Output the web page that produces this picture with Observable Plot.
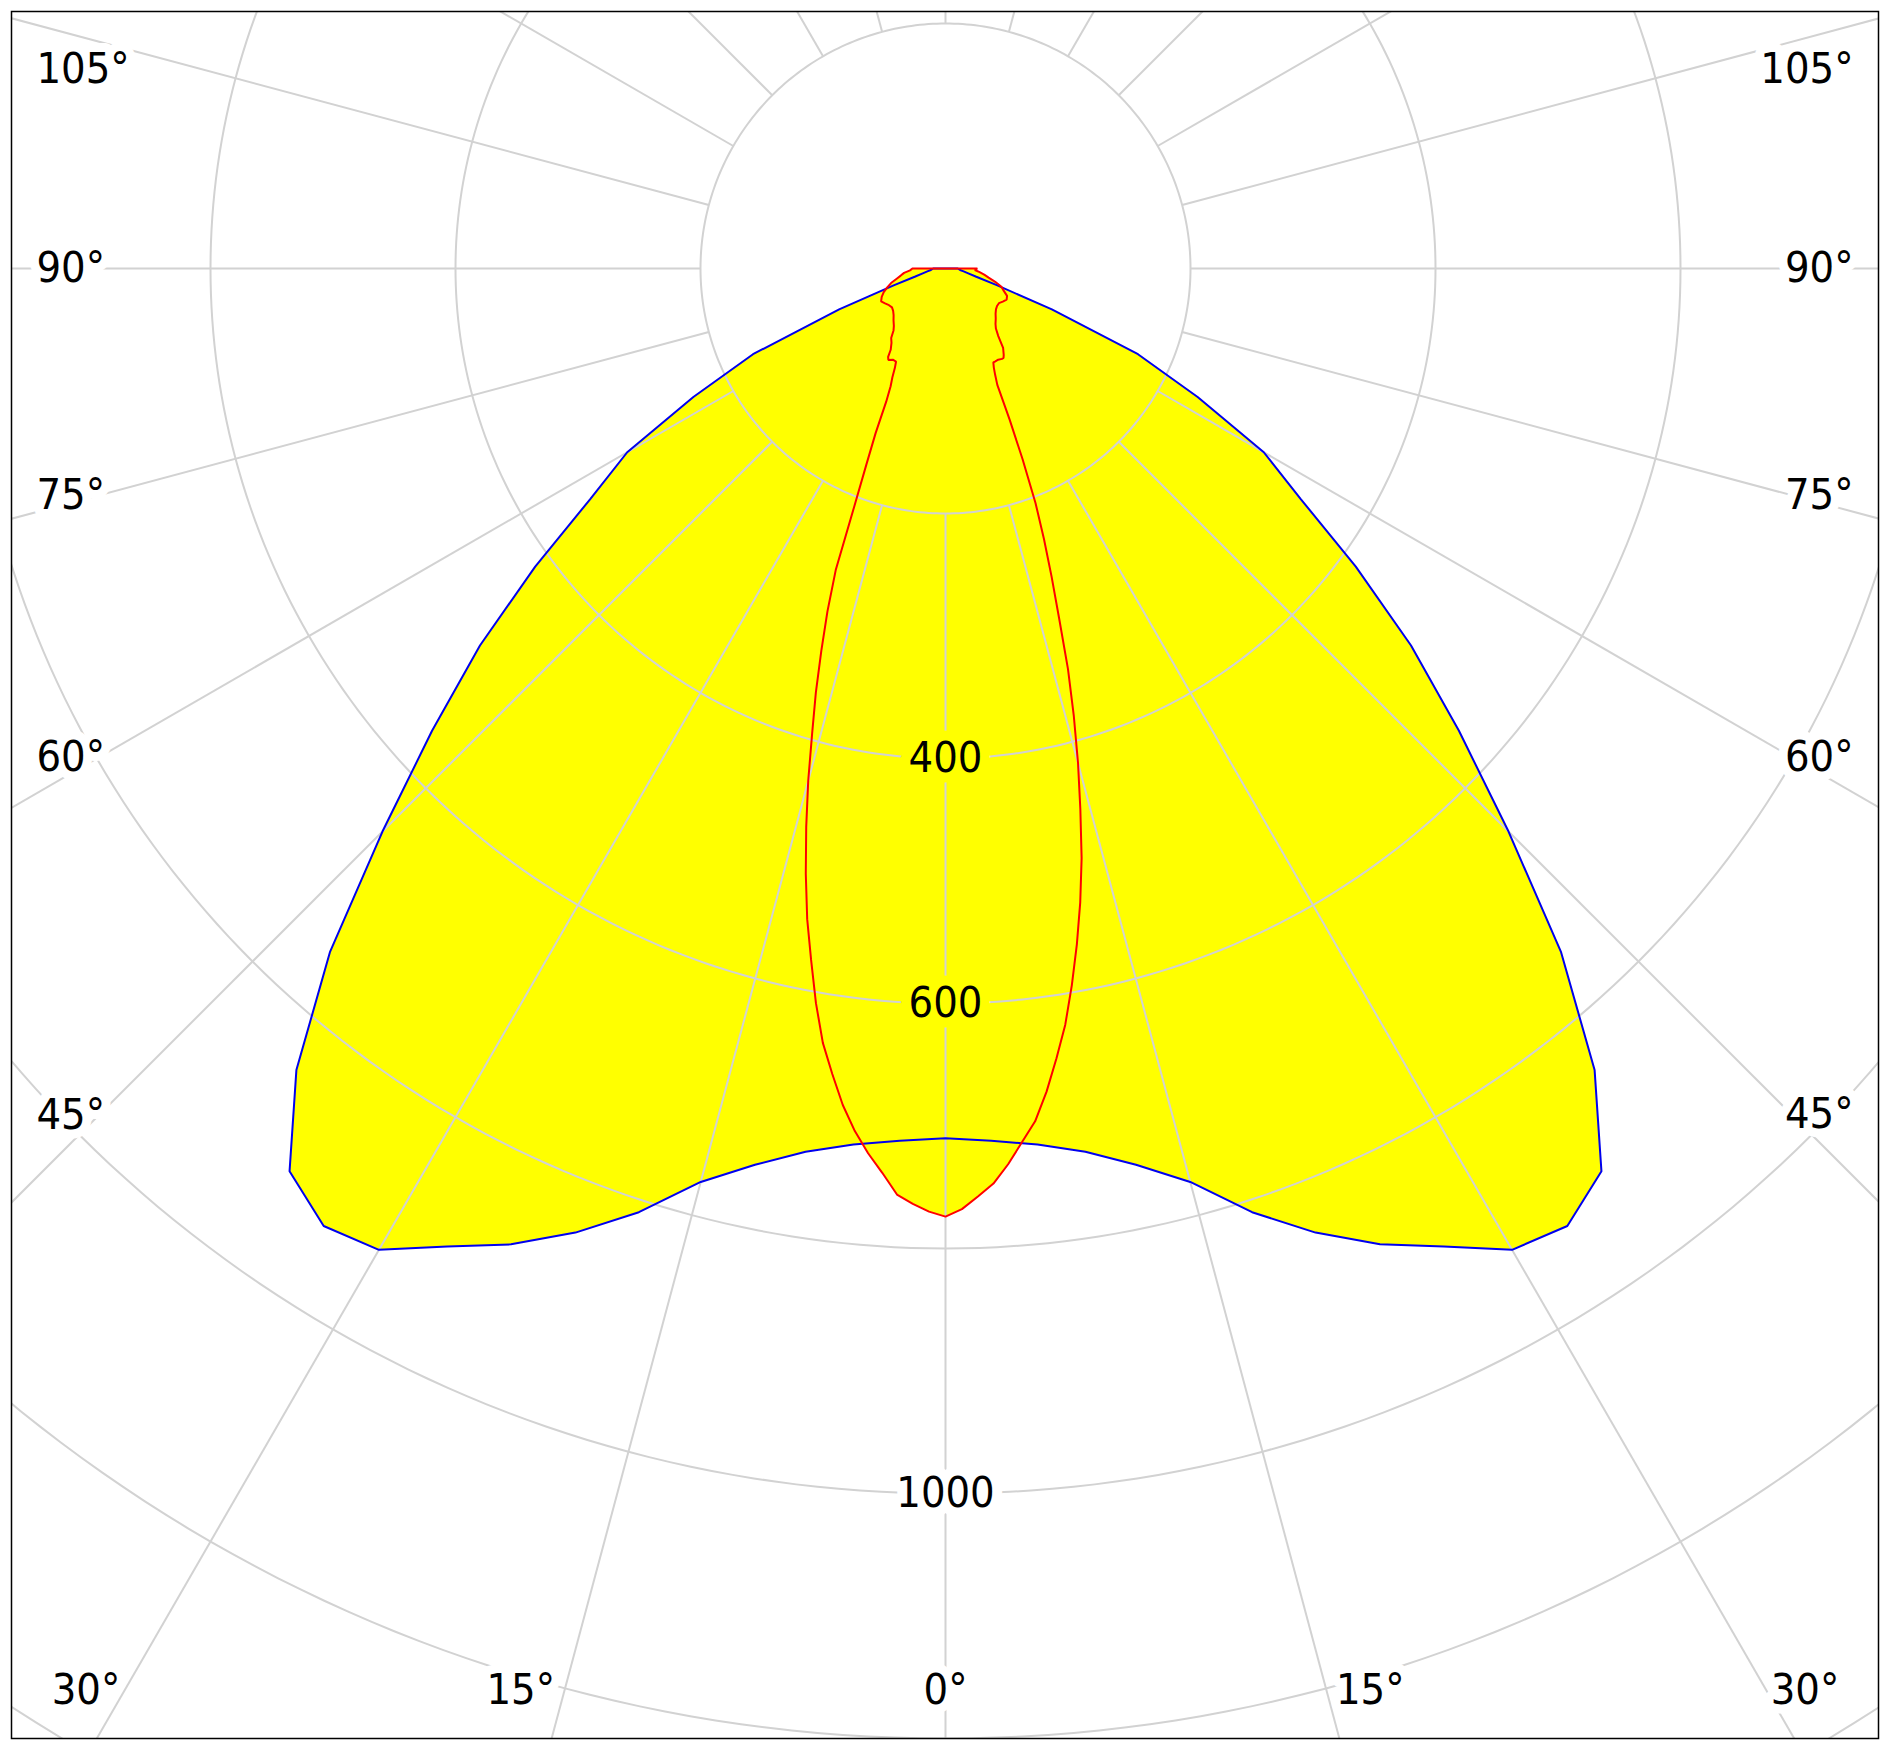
<!DOCTYPE html>
<html>
<head>
<meta charset="utf-8">
<script src="https://cdn.jsdelivr.net/npm/d3@7"></script>
<script src="https://cdn.jsdelivr.net/npm/@observablehq/plot@0.6"></script>
<style>
html,body{margin:0;padding:0;background:#fff;}
#chart svg{display:block;}
</style>
</head>
<body>
<div id="chart"></div>
<script>
// ---- data (cd values) ----
const blueAngles = [0,3,6,9,12,15,18,21,24,27,30,33,36,39,42,45,48,51,54,57,60,63,66,69,72,75,78,81,84,87,90];
const blueValues = [710,713,719,730,748,772,810,843,872,896,925,932,911,842,751,650,564,489,414,346,300,231,172,93,44,26,19,15,12,11,10];

const redAngles = [0,1,2,3,4,5,6,7,8,9,10,11,12,13,14,15,16,17,18,19,20,21,22,23,24,25,26,27,28,30,32,33,34,36,38,40,42,45,48,51,54,57,60,63,66,69,72,75,78,81,84,87,90];
const redLeft   = [774,770,764,757,740,725,708,688,664,640,609,575,543,507,470,433,395,362,328,296,262,207,172,146,119,106,99,91,86,86,88,86,80,75,72,66,63,60,57,55,54,55,57,59,57,54,50,46,41,37,34,29,27];
const redRight  = [774,768,758,748,733,716,700,677,651,625,594,562,529,494,455,418,380,342,300,266,235,205,168,134,104,96,90,86,86,86,87,87,85,80,70,64,61,58,55,53,52,52,54,56,55,51,48,42,36,32,28,24,26];

const ringTicks = [200,400,600,800,1000,1200,1400,1600];
const ringLabels = [400,600,1000];
const spokeAngles = [0,15,30,45,60,75,90,105,120,135,150,165,180,195,210,225,240,255,270,285,300,315,330,345];
const angleLabels = [0,15,30,45,60,75,90,105];

// ---- layout ----
const W = 1894, H = 1750;
const mL = 11, mR = 16, mT = 11, mB = 12;
const cx = 945, cy = 268;      // pole position in pixels
const k = 1.225;               // pixels per cd
const xDomain = [(mL - cx) / k, (W - mR - cx) / k];
const yDomain = [(H - mB - cy) / k, (mT - cy) / k];

const rad = d => d * Math.PI / 180;
const pol = (deg, r) => ({x: r * Math.sin(rad(deg)), y: r * Math.cos(rad(deg))});

// closed polygons: left side (negative angles) then right side, back to start
function polygon(angles, left, right) {
  const pts = [];
  for (let i = angles.length - 1; i >= 0; i--) pts.push(pol(-angles[i], left[i]));
  for (let i = 1; i < angles.length; i++) pts.push(pol(angles[i], right[i]));
  pts.push(pts[0]);
  return pts;
}
const bluePoly = polygon(blueAngles, blueValues, blueValues);
const redPoly = polygon(redAngles, redLeft, redRight);

// grid
const rings = ringTicks.flatMap(r => d3.range(0, 361, 1).map(a => ({r, ...pol(a, r)})));
const spokes = spokeAngles.map(a => {
  const p1 = pol(a, 200), p2 = pol(a, 3000);
  return {x1: p1.x, y1: p1.y, x2: p2.x, y2: p2.y};
});

// angle labels placed where each ray leaves an inner rectangle
const inL = 98, inR = 1791, inB = 1673;
const angleText = [];
for (const a of angleLabels) {
  for (const s of (a === 0 ? [0] : [-1, 1])) {
    const dx = s * Math.sin(rad(a)), dy = Math.cos(rad(a));
    const tSide = Math.abs(dx) > 1e-9 ? (s < 0 ? cx - inL : inR - cx) / Math.abs(dx) : Infinity;
    const tBot = dy > 1e-9 ? (inB - cy) / dy : Infinity;
    let px, py, anchor;
    if (tSide <= tBot) {
      py = Math.max(69, Math.min(1690, cy + tSide * dy));
      px = s < 0 ? 36 : 1853;
      anchor = s < 0 ? "start" : "end";
    } else {
      py = 1690;
      const bx = cx + tBot * dx;
      if (s === 0) { px = bx; anchor = "middle"; }
      else if (s < 0) { px = bx - 14; anchor = "end"; }
      else { px = bx + 14; anchor = "start"; }
    }
    angleText.push({x: (px - cx) / k, y: (py - cy) / k, text: a + "°", anchor});
  }
}
const rlabels = ringLabels.map(r => ({x: 0, y: r, text: String(r), inside: r < blueValues[0]}));

const font = '"DejaVu Sans Condensed", "DejaVu Sans", sans-serif';
const gridColor = "#d2d2d2";
const fs = 43;

const angleMarks = ["start", "middle", "end"].map(anc =>
  Plot.text(angleText.filter(d => d.anchor === anc), {x: "x", y: "y", text: "text", textAnchor: anc,
    fontSize: fs, fontFamily: font, fill: "black", stroke: "white", strokeWidth: 18,
    strokeLinejoin: "round", paintOrder: "stroke"}));

const chart = Plot.plot({
  width: W, height: H,
  marginLeft: mL, marginRight: mR, marginTop: mT, marginBottom: mB,
  x: {domain: xDomain, axis: null},
  y: {domain: yDomain, axis: null},
  style: {background: "white"},
  marks: [
    Plot.line(bluePoly, {x: "x", y: "y", fill: "yellow", stroke: "none", clip: true}),
    Plot.line(redPoly, {x: "x", y: "y", fill: "yellow", stroke: "none", clip: true}),
    Plot.line(rings, {x: "x", y: "y", z: "r", stroke: gridColor, strokeWidth: 2, clip: true}),
    Plot.link(spokes, {x1: "x1", y1: "y1", x2: "x2", y2: "y2", stroke: gridColor, strokeWidth: 2, clip: true}),
    Plot.line(bluePoly, {x: "x", y: "y", stroke: "#0000ee", strokeWidth: 2, strokeLinejoin: "miter", clip: true}),
    Plot.line(redPoly, {x: "x", y: "y", stroke: "#ff0000", strokeWidth: 2, strokeLinejoin: "miter", clip: true}),
    Plot.text(rlabels.filter(d => d.inside), {x: "x", y: "y", text: "text", fontSize: fs, fontFamily: font,
      fill: "black", stroke: "yellow", strokeWidth: 20, strokeLinejoin: "round", paintOrder: "stroke"}),
    Plot.text(rlabels.filter(d => !d.inside), {x: "x", y: "y", text: "text", fontSize: fs, fontFamily: font,
      fill: "black", stroke: "white", strokeWidth: 20, strokeLinejoin: "round", paintOrder: "stroke"}),
    ...angleMarks,
    Plot.frame({stroke: "black", strokeWidth: 1.5})
  ]
});
document.getElementById("chart").appendChild(chart);
</script>
</body>
</html>
